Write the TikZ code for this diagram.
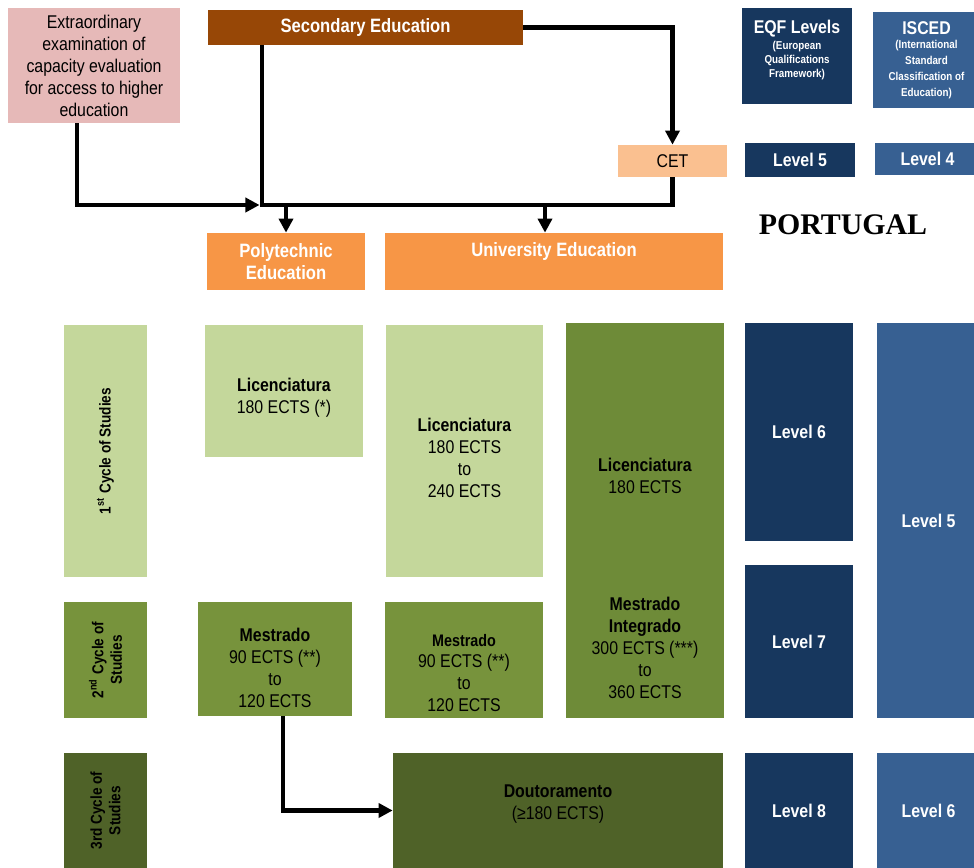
\documentclass[tikz,border=0pt]{standalone}
\usepackage{fontspec}
\setmainfont{Liberation Sans}[FakeStretch=0.86]
\newfontfamily\titlefont{Liberation Serif}
\usetikzlibrary{arrows.meta,positioning}

\definecolor{examPink}{RGB}{230,185,184}
\definecolor{secBrown}{RGB}{151,71,6}
\definecolor{eqfNavy}{RGB}{23,55,94}
\definecolor{iscedBlue}{RGB}{55,96,146}
\definecolor{cetPeach}{RGB}{250,192,144}
\definecolor{eduOrange}{RGB}{247,150,70}
\definecolor{cycOne}{RGB}{196,215,155}
\definecolor{cycTwo}{RGB}{119,147,60}
\definecolor{cycInt}{RGB}{110,139,56}
\definecolor{cycThree}{RGB}{79,98,40}

\newcommand{\smalltxt}[1]{{\fontsize{6.5}{8}\selectfont #1}}

\tikzset{
  box/.style={inner sep=0pt, align=center, font=\fontsize{10.5}{12.5}\selectfont},
  head/.style={box, text=white, font=\bfseries\fontsize{11}{12.5}\selectfont},
  lvl/.style={box, text=white, font=\bfseries\fontsize{10.5}{12}\selectfont},
  cyc/.style={box, rotate=90, font=\bfseries\fontsize{9}{10.5}\selectfont},
  flow/.style={line width=2.6pt, line join=miter, -{Triangle[length=8pt,width=8pt]}},
  flowline/.style={line width=2.6pt, line join=miter},
}

\begin{document}
\begin{tikzpicture}
\useasboundingbox (0,0) rectangle (19.48,-17.36);

% access to higher education
\node[box, fill=examPink, minimum width=3.44cm, minimum height=2.30cm] (exam) at (1.88,-1.31)
  {Extraordinary\\examination of\\capacity evaluation\\for access to higher\\education};
\node[head, fill=secBrown, minimum width=6.30cm, minimum height=0.70cm] (sec) at (7.31,-0.55) {Secondary Education};
\node[box, fill=cetPeach, minimum width=2.18cm, minimum height=0.64cm] (cet) at (13.45,-3.22) {CET};
\node[head, fill=eduOrange, minimum width=3.16cm, minimum height=1.14cm] (poly) at (5.72,-5.23) {Polytechnic\\Education};
\node[head, fill=eduOrange, minimum width=6.76cm, minimum height=1.14cm, text depth=14pt] (uni) at (11.08,-5.23) {University Education};

% frameworks
\node[lvl, fill=eqfNavy, minimum width=2.20cm, minimum height=1.92cm, text depth=8pt] (eqf) at (15.94,-1.12)
  {EQF Levels\\[-3pt]\smalltxt{(European}\\[-4pt]\smalltxt{Qualifications}\\[-4pt]\smalltxt{Framework)}};
\node[lvl, fill=iscedBlue, minimum width=2.14cm, minimum height=1.92cm] (isced) at (18.53,-1.20)
  {ISCED\\[-4pt]\smalltxt{(International}\\[-3pt]\smalltxt{Standard}\\[-3pt]\smalltxt{Classification of}\\[-3pt]\smalltxt{Education)}};
\node[lvl, fill=eqfNavy, minimum width=2.20cm, minimum height=0.68cm] (eqf5) at (16.00,-3.20) {Level 5};
\node[lvl, fill=iscedBlue, minimum width=2.10cm, minimum height=0.64cm] (isced4) at (18.55,-3.18) {Level 4};
\node[font=\titlefont\bfseries\fontsize{17}{20}\selectfont] (country) at (16.86,-4.50) {PORTUGAL};

% cycles of studies
\node[cyc, fill=cycOne, minimum width=5.04cm, minimum height=1.66cm] (cyc1) at (2.11,-9.02) {1\textsuperscript{st} Cycle of Studies};
\node[cyc, fill=cycTwo, minimum width=2.32cm, minimum height=1.66cm] (cyc2) at (2.11,-13.20) {2\textsuperscript{nd} Cycle of\\Studies};
\node[cyc, fill=cycThree, minimum width=2.30cm, minimum height=1.66cm] (cyc3) at (2.11,-16.21) {3rd Cycle of\\Studies};

\node[box, fill=cycOne, minimum width=3.16cm, minimum height=2.64cm] (lpoly) at (5.68,-7.82) {};
\node[box] (lpolytext) at ([yshift=-0.14cm]lpoly.center) {\textbf{Licenciatura}\\180 ECTS (*)};
\node[box, fill=cycOne, minimum width=3.14cm, minimum height=5.04cm] (luni) at (9.29,-9.02) {};
\node[box] (lunitext) at ([yshift=-0.14cm]luni.center) {\textbf{Licenciatura}\\180 ECTS\\to\\240 ECTS};
\node[box, fill=cycInt, minimum width=3.16cm, minimum height=7.90cm] (intg) at (12.90,-10.41) {};
\node[box] (lintg) at (12.90,-9.52) {\textbf{Licenciatura}\\180 ECTS};
\node[box] (mintg) at (12.90,-12.96) {\textbf{Mestrado}\\\textbf{Integrado}\\300 ECTS (***)\\to\\360 ECTS};
\node[box, fill=cycTwo, minimum width=3.08cm, minimum height=2.28cm] (mpoly) at (5.50,-13.18) {};
\node[box] (mpolytext) at ([yshift=-0.17cm]mpoly.center) {\textbf{Mestrado}\\90 ECTS (**)\\to\\120 ECTS};
\node[box, fill=cycTwo, minimum width=3.16cm, minimum height=2.32cm] (muni) at (9.28,-13.20) {};
\node[box] (munitext) at ([yshift=-0.26cm]muni.center) {\textbf{\fontsize{9.5}{12.5}\selectfont Mestrado}\\90 ECTS (**)\\to\\120 ECTS};
\node[box, fill=cycThree, minimum width=6.60cm, minimum height=2.30cm] (dout) at (11.16,-16.21) {};
\node[box] (douttext) at ([yshift=0.12cm]dout.center) {\textbf{Doutoramento}\\(≥180 ECTS)};

% levels
\node[lvl, fill=eqfNavy, minimum width=2.16cm, minimum height=4.36cm] (eqf6) at (15.98,-8.64) {Level 6};
\node[lvl, fill=eqfNavy, minimum width=2.16cm, minimum height=3.06cm] (eqf7) at (15.98,-12.83) {Level 7};
\node[lvl, fill=eqfNavy, minimum width=2.16cm, minimum height=2.30cm] (eqf8) at (15.98,-16.21) {Level 8};
\node[lvl, fill=iscedBlue, minimum width=2.06cm, minimum height=7.90cm] (isced5) at (18.57,-10.41) {Level 5};
\node[lvl, fill=iscedBlue, minimum width=2.06cm, minimum height=2.30cm] (isced6) at (18.57,-16.21) {Level 6};

% connectors
\coordinate (junc) at (5.24,-4.10);
\draw[flowline] (sec.south -| junc) -- (junc) -- (junc -| cet.south) -- (cet.south);
\draw[flow] (sec.east) -| (cet.north);
\draw[flow] ([xshift=-0.34cm]exam.south) |- ([xshift=-0.05cm]junc);
\draw[flow] (poly.north |- junc) -- (poly.north);
\draw[flow] ([xshift=-0.18cm]uni.north |- junc) -- ([xshift=-0.18cm]uni.north);
\draw[flow] ([xshift=0.16cm]mpoly.south) |- (dout.west);
\end{tikzpicture}
\end{document}
